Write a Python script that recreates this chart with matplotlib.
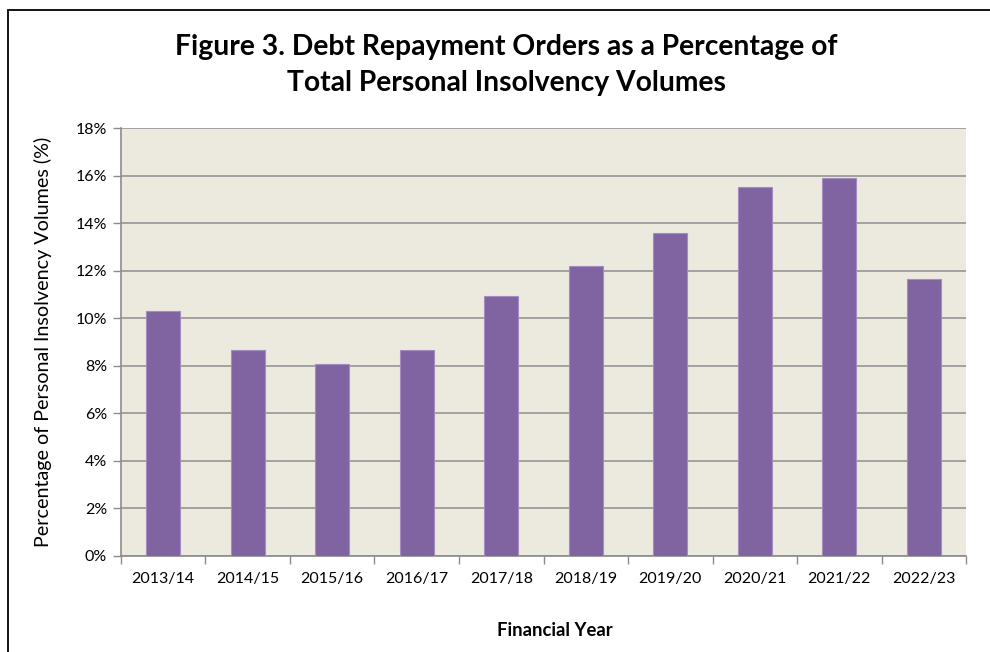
import matplotlib.pyplot as plt
import matplotlib.patches as patches
from matplotlib.ticker import FuncFormatter, MultipleLocator

years = ['2013/14', '2014/15', '2015/16', '2016/17', '2017/18',
         '2018/19', '2019/20', '2020/21', '2021/22', '2022/23']
dro_pct = [10.31, 8.68, 8.07, 8.65, 10.94, 12.22, 13.58, 15.52, 15.90, 11.64]

plt.rcParams['font.family'] = ['Lato', 'DejaVu Sans']

fig = plt.figure(figsize=(9.9, 6.52), dpi=100)
ax = fig.add_axes([0.1222, 0.1477, 0.8536, 0.6555])

# outer chart frame (only top and left edges fall inside the image)
fig.patches.append(patches.Rectangle((8 / 990, -0.5), 2.0, 1.5 - 10 / 652,
                                     transform=fig.transFigure, fill=False,
                                     edgecolor='black', linewidth=1.3))

ax.set_facecolor('#ECE9DF')
x = range(len(years))
ax.bar(x, dro_pct, width=0.4, color='#8064A2', edgecolor='#A38CBF',
       linewidth=0.8, zorder=3)

ax.set_xlim(-0.5, len(years) - 0.5)
ax.set_ylim(0, 18)
ax.yaxis.set_major_locator(MultipleLocator(2))
ax.yaxis.set_major_formatter(FuncFormatter(lambda v, p: '%d%%' % v))
ax.grid(axis='y', color='#9C9C9C', linewidth=1.3, zorder=1)

ax.set_xticks(list(x))
ax.set_xticklabels(years)
ax.set_xticks([i - 0.5 for i in range(len(years) + 1)], minor=True)
ax.tick_params(axis='x', which='major', length=0, pad=12, labelsize=11.5)
ax.tick_params(axis='x', which='minor', length=6, color='#8C8C8C', width=1)
ax.tick_params(axis='y', length=6, color='#8C8C8C', width=1, labelsize=11.5, pad=4)

for side in ['top', 'right']:
    ax.spines[side].set_visible(False)
for side in ['left', 'bottom']:
    ax.spines[side].set_color('#8C8C8C')
    ax.spines[side].set_linewidth(1.2)

fig.text(43 / 990, 1 - 342 / 652, 'Percentage of Personal Insolvency Volumes (%)',
         rotation=90, ha='center', va='center', fontsize=14.2)
fig.text(555 / 990, 1 - 631 / 652, 'Financial Year', ha='center', va='center',
         fontsize=13.3, fontweight='bold')
fig.text(506 / 990, 1 - 65 / 652,
         'Figure 3. Debt Repayment Orders as a Percentage of\nTotal Personal Insolvency Volumes',
         ha='center', va='center', fontsize=20.3, fontweight='bold', linespacing=1.5)

fig.savefig('out.png', dpi=100)
